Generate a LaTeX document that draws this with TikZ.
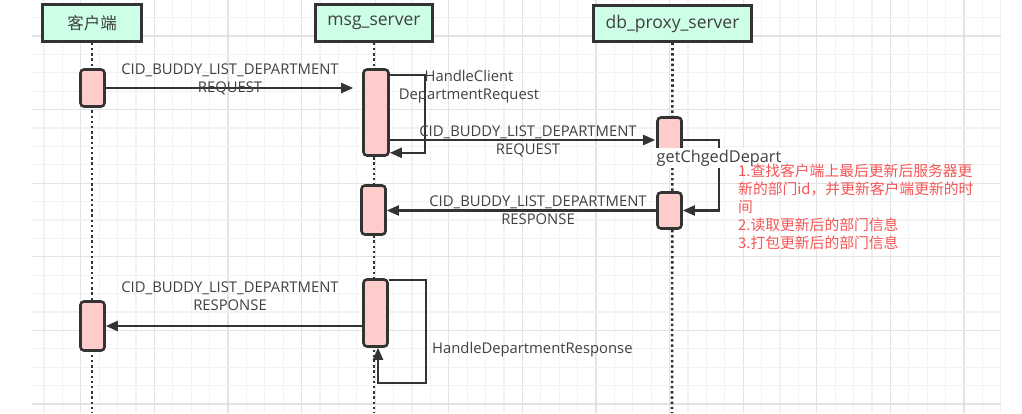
\documentclass[tikz,border=0pt]{standalone}
\usepackage{fontspec}
\setmainfont{Open Sans}
\newfontfamily\cjk{Noto Sans CJK SC}
\usetikzlibrary{arrows.meta,calc}
\definecolor{gmin}{HTML}{F2F2F2}
\definecolor{gmaj}{HTML}{E3E3E3}
\definecolor{hdrfill}{HTML}{CCFFE6}
\definecolor{actfill}{HTML}{FFCCCC}
\definecolor{edge}{HTML}{333333}
\definecolor{txt}{HTML}{404040}
\definecolor{notered}{HTML}{F55555}
\tikzset{
  hdr/.style={draw=edge, line width=2.6pt, fill=hdrfill, inner sep=0pt, text=txt, font=\fontsize{17.5}{20}\selectfont},
  act/.style={draw=edge, line width=2.6pt, fill=actfill, rounded corners=3.5pt, inner sep=0pt, minimum width=24pt},
  life/.style={edge, line width=2.6pt, dash pattern=on 2.4pt off 2.8pt},
  msg/.style={edge, line width=2.2pt, -{Triangle[length=12pt,width=10pt]}},
  lbl/.style={text=txt, font=\fontsize{14.8}{18}\selectfont, align=center, inner sep=0pt},
}
\begin{document}
\begin{tikzpicture}[x=1pt,y=-1pt]
\useasboundingbox (0,0) rectangle (1022,413);
% grid
\foreach \i in {2,...,54} {
  \pgfmathtruncatemacro\m{mod(\i,4)}
  \ifnum\m=0 \def\gc{gmaj}\else\def\gc{gmin}\fi
  \draw[\gc, line width=1.2pt] ({7.2+18.4*\i},0) -- ({7.2+18.4*\i},413);
}
\foreach \j in {1,...,22} {
  \pgfmathtruncatemacro\m{mod(\j+2,4)}
  \ifnum\m=0 \def\gc{gmaj}\else\def\gc{gmin}\fi
  \draw[\gc, line width=1.2pt] (32,{-0.8+18.4*\j}) -- (1001,{-0.8+18.4*\j});
}
% headers
\node[hdr, minimum width=99pt, minimum height=37pt] (client) at (92,23) {\cjk\fontsize{16.5}{20}\selectfont 客户端};
\node[hdr, minimum width=117pt, minimum height=37pt] (msgs) at (374,23) {msg\_server};
\node[hdr, minimum width=158pt, minimum height=36pt] (db) at (672.5,23.5) {db\_proxy\_server};
% lifelines
\coordinate (cend) at (92,413);
\coordinate (mend) at (374,413);
\coordinate (dend) at (672,413);
\draw[life] (client.south) -- (cend);
\draw[life] (msgs.south) -- (mend);
\draw[life] (db.south) -- (dend);
% activations
\node[act, minimum height=37pt] (c1) at (92.5,88) {};
\node[act, minimum width=25pt, minimum height=86pt] (m1) at (376,112.5) {};
\node[act, minimum height=45pt] (d1) at (669.5,140) {};
\node[act, minimum height=36pt] (d2) at (669.5,210.5) {};
\node[act, minimum height=49pt] (m2) at (373.5,210) {};
\node[act, minimum height=67pt] (m3) at (375.5,313) {};
\node[act, minimum height=49pt] (c2) at (92.5,326) {};
% messages
\draw[msg, shorten >=9pt] (c1.east) -- (c1.east -| m1.west);
\node[lbl] (l1) at (230,79) {CID\_BUDDY\_LIST\_DEPARTMENT\\REQUEST};

\draw[msg] ([yshift=-7pt]m1.north east) -- ++(35,0) |- ([yshift=4pt]m1.south east);
\node[lbl] (l2) at (469,87) {HandleClient\\DepartmentRequest};

\draw[msg, shorten >=1pt] (m1.east |- d1.west) -- (d1.west);
\node[lbl] (l3) at (528,141) {CID\_BUDDY\_LIST\_DEPARTMENT\\REQUEST};

\draw[msg] (d1.east) -- ++(36,0) |- (d2.east);
\node[lbl, fill=white, font=\fontsize{16.3}{18}\selectfont, inner xsep=1pt, inner ysep=2pt] (l4) at (719,158) {getChgedDepart};

\draw[msg] (d2.west) -- (m2.east |- d2.west);
\node[lbl] (l5) at (538,210) {CID\_BUDDY\_LIST\_DEPARTMENT\\RESPONSE};

\draw[msg] (c2.east -| m3.west) -- (c2.east);
\node[lbl] (l6) at (230,296) {CID\_BUDDY\_LIST\_DEPARTMENT\\RESPONSE};

\draw[msg] ([yshift=-2pt]m3.north east) -- ++(37,0) -- ++(0,103) -| ([xshift=2.5pt]m3.south);
\node[lbl, anchor=west] (l7) at (432,350) {HandleDepartmentResponse};

\node[anchor=north west, text=notered, inner sep=0pt, align=left, font=\cjk\fontsize{14.8}{18}\selectfont] (note) at (738,164)
 {1.查找客户端上最后更新后服务器更\\新的部门id，并更新客户端更新的时\\间\\2.读取更新后的部门信息\\3.打包更新后的部门信息};
\end{tikzpicture}
\end{document}
